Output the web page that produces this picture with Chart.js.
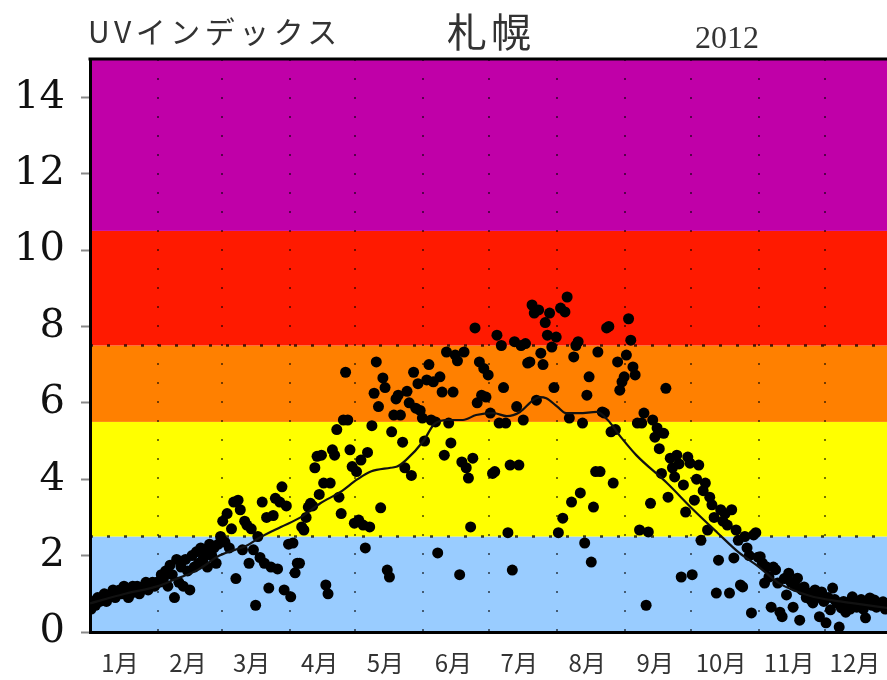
<!DOCTYPE html>
<html>
<head>
<meta charset="utf-8">
<script src="https://cdn.jsdelivr.net/npm/chart.js@4.4.0/dist/chart.umd.min.js"></script>
<style>
  body { margin: 0; background: #fff; }
  #wrap { position: relative; width: 887px; height: 680px; overflow: hidden; }
  .ttl { position: absolute; font-family: "Noto Sans CJK JP"; color: #333; white-space: nowrap; line-height: 1; }
</style>
</head>
<body>
<div id="wrap">
  <canvas id="myChart" width="887" height="680"></canvas>
  <div class="ttl" style="left:88px; top:15px; font-size:30px; letter-spacing:4.5px;">UVインデックス</div>
  <div class="ttl" style="left:447px; top:10px; font-size:40px; letter-spacing:4px;">札幌</div>
  <div class="ttl" style="left:695px; top:21px; font-size:32px; font-family:'Liberation Serif';">2012</div>
</div>
<script>
// month axis
var monthStarts = [0, 31, 60, 91, 121, 152, 182, 213, 244, 274, 305, 335];
var monthLabels = ['1月', '2月', '3月', '4月', '5月', '6月', '7月', '8月', '9月', '10月', '11月', '12月'];
var yTickLabels = [0, 2, 4, 6, 8, 10, 12, 14];

// UV category bands
var bandEdges = [0, 2.5, 5.5, 7.5, 10.5, 15];
var bandColors = ['#99ccff', '#ffff00', '#ff8000', '#ff1a00', '#c000a8'];
var dottedLevels = [2.5, 7.5];

// daily UV index 2012
var janUV = [0.6, 0.8, 0.7, 0.9, 0.8, 0.9, 1.0, 0.8, 0.9, 1.0, 1.1, 0.9, 1.0, 1.1, 1.0, 1.2, 1.1, 0.9, 1.0, 1.2, 1.1, 1.2, 1.0, 1.1, 1.2, 1.3, 1.1, 1.2, 1.3, 1.2, 1.3];
var febUV = [1.3, 1.5, 1.4, 1.6, 1.2, 1.75, 1.5, 0.9, 1.9, 1.3, 1.7, 1.2, 1.9, 1.6, 1.1, 2.0, 1.7, 2.1, 1.8, 2.2, 1.9, 2.1, 1.7, 2.3, 2.0, 2.2, 1.8, 2.3, 2.5];
var marUV = [2.9, 2.35, 3.1, 2.2, 2.7, 3.4, 1.4, 3.45, 3.2, 2.15, 2.9, 2.8, 1.8, 2.7, 2.15, 0.7, 2.5, 1.95, 3.4, 1.8, 3.0, 1.15, 1.7, 3.05, 3.5, 1.65, 3.4, 3.8, 1.1, 3.3, 2.3];
var aprUV = [0.92, 2.33, 1.55, 1.8, 1.8, 2.75, 2.67, 3.0, 3.27, 3.37, 3.3, 4.3, 4.6, 3.6, 4.63, 3.9, 1.23, 1.0, 3.9, 4.77, 4.63, 5.3, 3.53, 3.1, 5.55, 6.8, 5.55, 4.77, 4.33, 2.85];
var mayUV = [4.2, 2.93, 4.5, 2.8, 2.2, 4.7, 2.75, 5.4, 6.25, 7.07, 5.9, 3.25, 6.65, 6.4, 1.62, 1.44, 5.24, 5.68, 6.1, 6.2, 5.68, 4.97, 4.3, 6.3, 6.0, 4.1, 6.8, 5.86, 6.5, 5.8, 5.6];
var junUV = [5.0, 6.6, 7.0, 5.55, 6.55, 5.5, 2.07, 6.68, 6.28, 4.63, 7.33, 5.47, 4.95, 6.28, 7.25, 7.1, 1.5, 4.45, 7.33, 4.3, 4.03, 2.75, 4.55, 7.96, 6.0, 7.07, 6.2, 6.9, 6.15, 6.73];
var julUV = [5.73, 4.15, 4.2, 7.77, 5.47, 7.5, 6.4, 5.47, 2.6, 4.37, 1.62, 7.6, 5.9, 4.37, 7.5, 5.55, 7.55, 7.04, 7.07, 8.56, 8.35, 6.07, 8.43, 7.3, 7.0, 8.1, 7.77, 8.35, 7.46, 6.4, 7.72];
var augUV = [2.6, 8.48, 2.98, 8.38, 8.77, 5.6, 3.4, 7.2, 7.5, 7.6, 3.64, 5.47, 2.33, 6.2, 6.68, 1.83, 3.27, 4.2, 7.33, 4.2, 5.76, 5.73, 7.96, 8.0, 5.24, 3.9, 5.3, 7.07, 6.33, 6.55, 6.68];
var sepUV = [7.25, 8.2, 7.64, 6.94, 6.73, 5.47, 2.67, 5.47, 5.73, 0.7, 2.62, 3.37, 5.55, 5.1, 5.34, 4.8, 4.15, 5.2, 6.38, 3.53, 4.55, 4.3, 4.06, 4.63, 4.4, 1.44, 3.85, 3.14, 4.58, 4.42];
var octUV = [1.5, 3.45, 4.0, 4.37, 2.4, 3.7, 3.9, 2.67, 3.53, 3.33, 3.0, 1.02, 1.88, 3.2, 2.9, 3.1, 2.8, 1.02, 3.2, 1.94, 2.67, 2.4, 1.23, 1.18, 2.5, 2.2, 2.0, 0.5, 2.54, 2.6, 1.96];
var novUV = [1.97, 1.8, 1.28, 1.7, 1.44, 0.65, 1.7, 1.63, 1.28, 0.52, 0.4, 1.4, 0.97, 1.54, 1.3, 0.65, 1.2, 1.41, 0.31, 1.1, 1.18, 0.9, 1.02, 0.85, 0.76, 1.1, 0.9, 0.4, 1.05, 0.8];
var decUV = [0.24, 0.9, 0.58, 1.15, 0.85, 0.76, 0.13, 0.63, 0.8, 0.52, 0.75, 0.6, 0.92, 0.8, 0.65, 0.7, 0.85, 0.6, 0.37, 0.75, 0.89, 0.7, 0.84, 0.65, 0.76, 0.7, 0.79, 0.6, 0.7, 0.65, 0.7];

// smoothed normal curve
var lineDays = [0, 16, 31, 38, 49, 59, 72, 77, 87, 96, 105, 114, 122, 128, 137, 140, 144, 152, 157, 163, 170, 176, 184, 190, 196, 202, 205, 208, 213, 217, 223, 231, 236, 242, 249, 263, 275, 286, 296, 305, 314, 328, 342, 365];
var lineUV = [0.75, 1.0, 1.2, 1.36, 1.62, 2.0, 2.28, 2.46, 2.75, 3.0, 3.37, 3.66, 4.0, 4.2, 4.3, 4.33, 4.5, 5.0, 5.45, 5.55, 5.55, 5.68, 5.73, 5.65, 5.76, 6.07, 6.15, 6.12, 5.9, 5.73, 5.73, 5.76, 5.55, 5.1, 4.63, 3.9, 3.2, 2.6, 2.07, 1.7, 1.28, 0.95, 0.8, 0.62];

var dailyUV = [].concat(janUV, febUV, marUV, aprUV, mayUV, junUV, julUV, augUV, sepUV, octUV, novUV, decUV);
var dailyPoints = dailyUV.map(function (v, i) { return { x: i + 0.5, y: v }; });
var linePoints = lineDays.map(function (d, i) { return { x: d, y: lineUV[i] }; });

var bandsPlugin = {
    id: 'bands',
    beforeDraw: function (chart) {
        var ctx = chart.ctx, area = chart.chartArea, y = chart.scales.y;
        ctx.save();
        for (var i = 0; i < bandColors.length; i++) {
            var top = y.getPixelForValue(bandEdges[i + 1]);
            var bottom = y.getPixelForValue(bandEdges[i]);
            ctx.fillStyle = bandColors[i];
            ctx.fillRect(area.left, top, area.right - area.left, bottom - top);
        }
        ctx.strokeStyle = 'rgba(0,0,0,0.75)';
        ctx.lineWidth = 2.5;
        ctx.setLineDash([3, 14]);
        dottedLevels.forEach(function (v) {
            var py = y.getPixelForValue(v);
            ctx.beginPath();
            ctx.moveTo(area.left, py);
            ctx.lineTo(area.right, py);
            ctx.stroke();
        });
        ctx.restore();
    },
    afterDraw: function (chart) {
        var ctx = chart.ctx, area = chart.chartArea;
        ctx.save();
        ctx.strokeStyle = '#000';
        ctx.lineWidth = 3;
        ctx.beginPath();
        ctx.moveTo(area.left - 1.5, area.top);
        ctx.lineTo(area.right, area.top);
        ctx.stroke();
        ctx.restore();
    }
};

var myChart = new Chart(document.getElementById('myChart'), {
    type: 'scatter',
    data: {
        datasets: [{
            type: 'line',
            data: linePoints,
            borderColor: '#111',
            borderWidth: 2.2,
            pointRadius: 0,
            pointHoverRadius: 0,
            fill: false,
            cubicInterpolationMode: 'monotone'
        }, {
            type: 'scatter',
            data: dailyPoints,
            backgroundColor: '#000',
            borderWidth: 0,
            pointRadius: 5.5
        }]
    },
    options: {
        responsive: false,
        animation: false,
        events: [],
        layout: { autoPadding: false, padding: { top: 59, left: 0, right: 0, bottom: 0 } },
        plugins: { legend: { display: false }, tooltip: { enabled: false } },
        scales: {
            x: {
                type: 'linear',
                min: 0,
                max: 363.3,
                afterBuildTicks: function (scale) {
                    scale.ticks = monthStarts.map(function (v) { return { value: v }; });
                },
                afterFit: function (scale) { scale.height = 48; scale.paddingRight = 0; },
                ticks: {
                    autoSkip: false,
                    maxRotation: 0,
                    labelOffset: 30,
                    padding: 16,
                    color: '#333',
                    font: { family: 'Noto Sans CJK JP', size: 24 },
                    callback: function (value, index) { return monthLabels[index]; }
                },
                grid: {
                    drawTicks: false,
                    lineWidth: 2,
                    color: function (c) { return c.tick && c.tick.value === 0 ? 'rgba(0,0,0,0)' : 'rgba(0,0,0,0.55)'; }
                },
                border: { display: true, color: '#000', width: 3, dash: [2, 17] }
            },
            y: {
                min: 0,
                max: 15,
                afterFit: function (scale) { scale.width = 90; },
                ticks: {
                    stepSize: 1,
                    padding: 16,
                    color: '#111',
                    font: { family: 'DejaVu Serif', size: 40 },
                    callback: function (value) { return yTickLabels.indexOf(value) >= 0 ? String(value) : ''; }
                },
                grid: {
                    drawOnChartArea: false,
                    drawTicks: true,
                    tickLength: 9,
                    tickWidth: function (c) { return c.tick && c.tick.value % 2 === 0 ? 2 : 1.5; },
                    tickColor: function (c) { return c.tick && c.tick.value === 15 ? 'rgba(0,0,0,0)' : '#888'; }
                },
                border: { display: true, color: '#000', width: 3 }
            }
        }
    },
    plugins: [bandsPlugin]
});
</script>
</body>
</html>
